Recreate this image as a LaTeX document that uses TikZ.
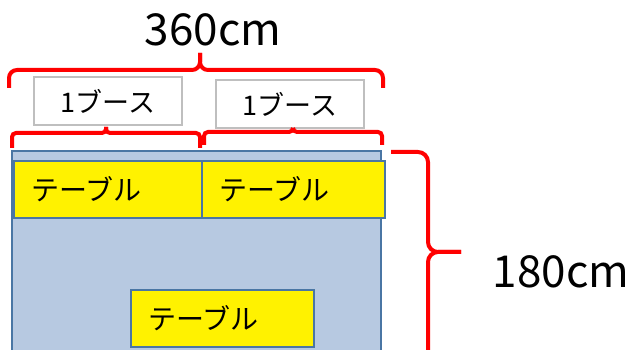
\documentclass[tikz,border=0pt]{standalone}
\usepackage{fontspec}
\setmainfont{Noto Sans CJK JP}
\definecolor{framecol}{HTML}{4A76A4}
\definecolor{roomcol}{HTML}{B7C9E1}
\begin{document}
\begin{tikzpicture}[x=1pt,y=-1pt,
    room/.style={draw=framecol,fill=roomcol,line width=2.4pt},
    tablebox/.style={draw=framecol,fill=yellow,line width=2.4pt,minimum height=57pt,inner xsep=17pt,align=left,font=\fontsize{28}{32}\selectfont},
    boothbox/.style={draw=black!25,fill=white,line width=1.6pt,minimum width=148pt,minimum height=48pt,font=\fontsize{27}{30}\selectfont},
    brace/.style={draw=red,line width=4pt,rounded corners=8pt},
    size/.style={font=\fontsize{44}{50}\selectfont}]
    \clip (0,0) rectangle (630,350);
    \node[room,minimum width=369pt,minimum height=215pt] (room) at (196.5,258.5) {};
    \def\ts{(108,189.5)/154,(293.5,189.5)/149,(222.5,318.5)/149}
    %        left top       right top         bottom
    \foreach \c/\w [count=\i from 1] in \ts {\node[tablebox,text width=\w pt] (t\i) at \c {テーブル};}
    \node[boothbox] (b1) at (108,101) {1ブース};
    \node[boothbox] (b2) at (290,104) {1ブース};
    \draw[brace] (9,88) |- (200,70) -- (200,53);
    \draw[brace] (383,88) |- (200,70) -- (200,53);
    \draw[brace,rounded corners=4pt] (12,148) |- (106,133) -- (106,127);
    \draw[brace,rounded corners=4pt] (200,148) |- (106,133) -- (106,127);
    \draw[brace,rounded corners=4pt] (204,145) |- (293,132) -- (293,128);
    \draw[brace,rounded corners=4pt] (382,145) |- (293,132) -- (293,128);
    \draw[brace,rounded corners=10pt] (391,152) -| (428,252) -- (461,252);
    \draw[brace,rounded corners=10pt] (391,364) -| (428,252) -- (461,252);
    \node[size] (w) at (213,30) {360cm};
    \node[size] (h) at (561,272) {180cm};
\end{tikzpicture}
\end{document}
